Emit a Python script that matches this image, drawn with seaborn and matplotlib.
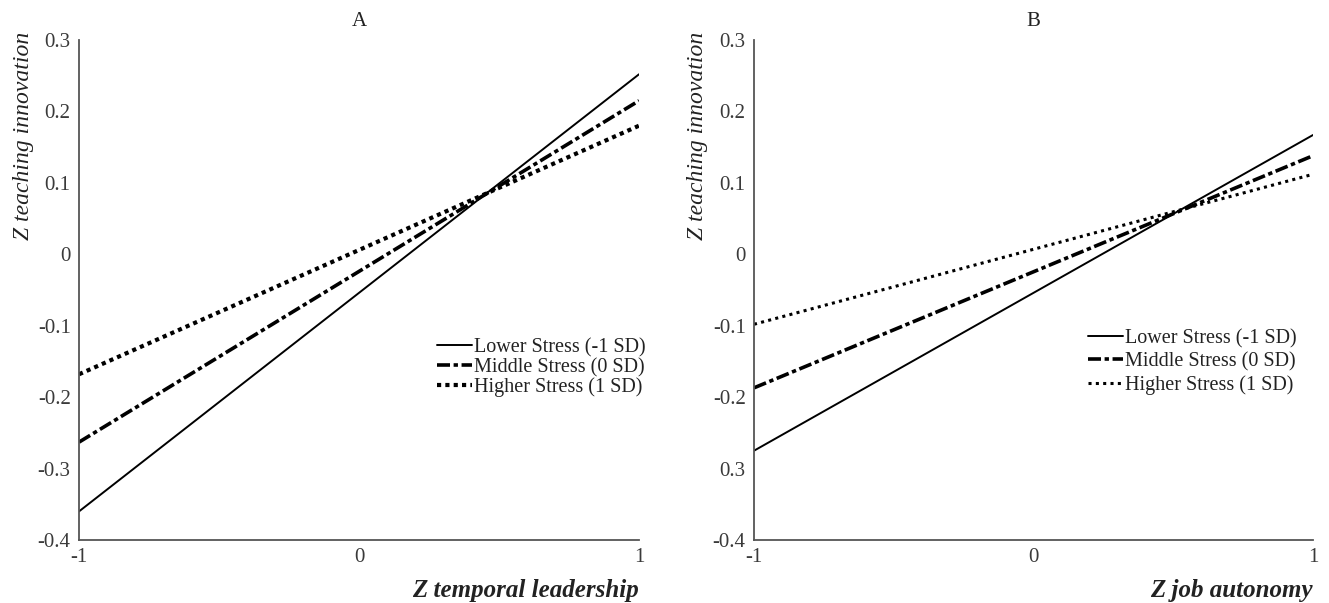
import pandas as pd
import matplotlib.pyplot as plt
import seaborn as sns

# Simple slopes, endpoints at Z = -1 and Z = 1
x_vals = [-1, 1]
series = ['Lower Stress (-1 SD)', 'Middle Stress (0 SD)', 'Higher Stress (1 SD)']

a_lower = [-0.360, 0.252]
a_middle = [-0.263, 0.215]
a_higher = [-0.168, 0.180]

b_lower = [-0.275, 0.167]
b_middle = [-0.187, 0.138]
b_higher = [-0.098, 0.112]

y_ticks = [-0.4, -0.3, -0.2, -0.1, 0, 0.1, 0.2, 0.3]
a_ytick_labels = ['-0.4', '-0.3', '-0.2', '-0.1', '0', '0.1', '0.2', '0.3']
b_ytick_labels = ['-0.4', '0.3', '-0.2', '-0.1', '0', '0.1', '0.2', '0.3']
x_ticks = [-1, 0, 1]
x_tick_labels = ['-1', '0', '1']


def make_df(lower, middle, higher):
    rows = []
    for name, vals in zip(series, [lower, middle, higher]):
        for x, y in zip(x_vals, vals):
            rows.append({'x': x, 'y': y, 'group': name})
    return pd.DataFrame(rows)


df_a = make_df(a_lower, a_middle, a_higher)
df_b = make_df(b_lower, b_middle, b_higher)

sns.set_style('white')
plt.rcParams['font.family'] = ['Liberation Serif', 'DejaVu Serif']
plt.rcParams['lines.dash_capstyle'] = 'butt'

W, H = 1329, 603
fig = plt.figure(figsize=(W / 100, H / 100), dpi=100)
ax_a = fig.add_axes([79 / W, 63 / H, 560 / W, 500 / H])
ax_b = fig.add_axes([754 / W, 63 / H, 559 / W, 500 / H])

styles_a = {
    series[0]: dict(ls='-', lw=1.4),
    series[1]: dict(ls=(0, (3.6, 1.0, 1.2, 1.0)), lw=2.6),
    series[2]: dict(ls=(0, (1, 1)), lw=3.0),
}
styles_b = {
    series[0]: dict(ls='-', lw=1.4),
    series[1]: dict(ls=(0, (3.6, 1.0, 1.2, 1.0)), lw=2.6),
    series[2]: dict(ls=(0, (1, 1.4)), lw=2.2),
}

panels = [
    (ax_a, df_a, styles_a, 'A', 'Z temporal leadership', a_ytick_labels,
     (0.639, 0.404), 24, 0.03),
    (ax_b, df_b, styles_b, 'B', 'Z job autonomy', b_ytick_labels,
     (0.5975, 0.422), 697, 0.2),
]

for ax, df, styles, title, xlab, ylabels, leg_pos, ylab_x, lab_sp in panels:
    for name in series:
        st = styles[name]
        sns.lineplot(data=df[df['group'] == name], x='x', y='y', ax=ax,
                     color='black', linestyle=st['ls'], linewidth=st['lw'],
                     label=name)
    ax.set_xlim(-1, 1)
    ax.set_ylim(-0.4, 0.3)
    ax.set_xticks(x_ticks)
    ax.set_xticklabels(x_tick_labels)
    ax.set_yticks(y_ticks)
    ax.set_yticklabels(ylabels)
    ax.tick_params(direction='in', length=5, width=1, colors='#555555',
                   labelcolor='#3a3a3a', labelsize=15, pad=6)
    for side in ['top', 'right']:
        ax.spines[side].set_visible(False)
    for side in ['left', 'bottom']:
        ax.spines[side].set_color('#555555')
        ax.spines[side].set_linewidth(1.3)
    ax.set_title(title, fontsize=15, color='#222222', pad=10)
    ax.set_xlabel(xlab, fontsize=18, fontweight='bold', fontstyle='italic',
                  color='#222222')
    ax.xaxis.set_label_coords(1.0, -0.078)
    ax.xaxis.label.set_horizontalalignment('right')
    ax.set_ylabel('')
    fig.text(ylab_x / W, 1 - 32 / H, 'Z teaching innovation', rotation=90,
             ha='center', va='top', fontsize=17, fontstyle='italic',
             color='#222222')
    leg = ax.legend(loc='upper left', bbox_to_anchor=leg_pos,
                    frameon=False, fontsize=14.5, handlelength=1.75,
                    handletextpad=0.1, labelspacing=lab_sp, borderaxespad=0,
                    borderpad=0)
    for t in leg.get_texts():
        t.set_color('#222222')
    ax.grid(False)

fig.savefig('out.png', dpi=100)
